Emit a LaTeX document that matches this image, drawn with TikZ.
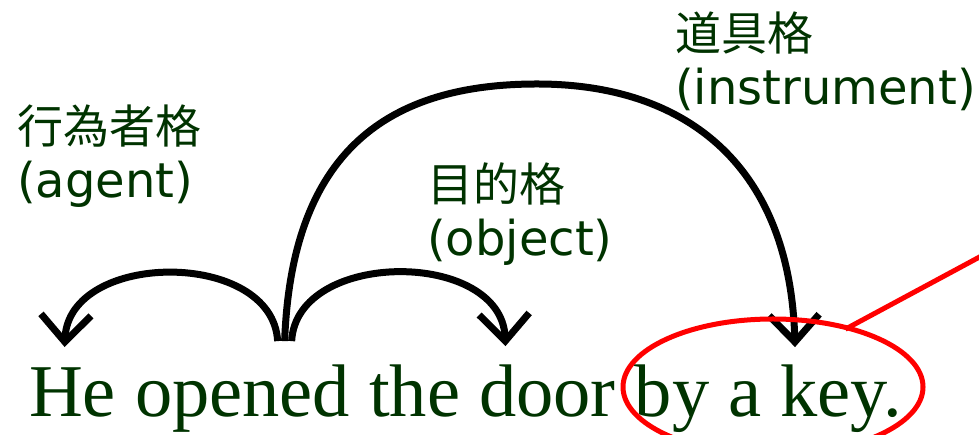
\documentclass[tikz,border=0pt]{standalone}
\usepackage{fontspec}
\setmainfont{Liberation Serif}
\newfontfamily\labelfont{DejaVu Sans}
\newfontfamily\jafont{Noto Sans CJK JP}
\usetikzlibrary{arrows.meta,positioning,shapes.geometric}
\definecolor{casegreen}{RGB}{0,51,0}
\newcommand{\jcase}[1]{{\jafont\fontsize{46}{54}\selectfont #1}}

\begin{document}
\begin{tikzpicture}[x=1pt,y=1pt,
    word/.style={inner sep=0pt,text=casegreen,font=\fontsize{74.5}{80}\selectfont},
    role/.style={inner sep=0pt,anchor=north west,align=left,text=casegreen,
      font=\labelfont\fontsize{48}{54}\selectfont},
    arc/.style={line width=7pt,-{Straight Barb[length=27pt,width=50pt]}}]
    \useasboundingbox (0,0) rectangle (979,435);
    \clip (0,0) rectangle (979,435);
    % the sentence
    \node[word,anchor=base west] (He) at (29,18) {He};
    \node[word,base right=18.6pt of He] (opened) {opened};
    \node[word,base right=18.6pt of opened] (the) {the};
    \node[word,base right=18.6pt of the] (door) {door};
    \node[word,base right=18.6pt of door] (by) {by};
    \node[word,base right=18.6pt of by] (a) {a};
    \node[word,base right=18.6pt of a] (key) {key.};
    % case labels
    \node[role] (agent) at (17,330) {\jcase{行為者格}\\(agent)};
    \node[role] (object) at (427,273) {\jcase{目的格}\\(object)};
    \node[role] (instrument) at (675,423) {\jcase{道具格}\\(instrument)};
    % case arcs
    \draw[arc] ([shift={(35,24)}]opened.north) .. controls +(-5,92) and +(4,97) .. ([shift={(-8,21)}]He.north);
    \draw[arc] ([shift={(49,24)}]opened.north) .. controls +(5,92) and +(-4,97) .. ([shift={(-42,19)}]door.north);
    \draw[arc] ([shift={(42,24)}]opened.north) .. controls +(7,192) and +(-147,0) .. (537,351)
      .. controls +(153,0) and +(-5,178) .. ([shift={(-46,18)}]key.north);
    % highlight
    \node[draw=red,line width=5pt,ellipse,minimum width=300pt,minimum height=136pt,inner sep=0pt] (keyring) at (773,48) {};
    \coordinate (pointer) at (1000,189);
    \draw[red,line width=5pt,shorten <=-6pt] (keyring.38) -- (pointer);
\end{tikzpicture}
\end{document}
